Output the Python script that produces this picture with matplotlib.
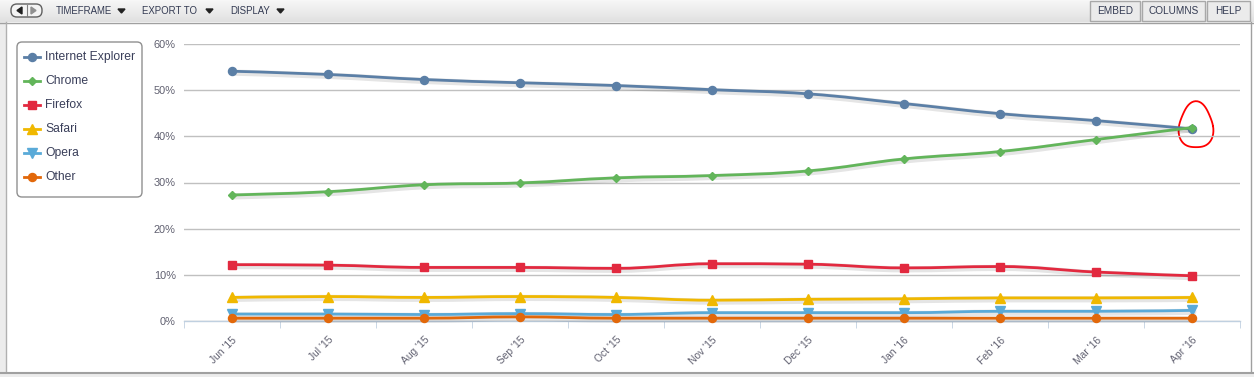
import matplotlib
matplotlib.use("Agg")
import matplotlib.pyplot as plt
from matplotlib.patches import FancyBboxPatch, Rectangle, Polygon, PathPatch
from matplotlib.path import Path
import matplotlib.patheffects as pe
import numpy as np

months = ["Jun '15", "Jul '15", "Aug '15", "Sep '15", "Oct '15", "Nov '15",
          "Dec '15", "Jan '16", "Feb '16", "Mar '16", "Apr '16"]
ie = [54.1, 53.4, 52.3, 51.6, 51.0, 50.1, 49.2, 47.1, 44.9, 43.4, 41.6]
chrome = [27.3, 28.0, 29.5, 29.9, 31.0, 31.5, 32.5, 35.1, 36.7, 39.3, 41.9]
firefox = [12.2, 12.1, 11.6, 11.6, 11.4, 12.4, 12.3, 11.5, 11.8, 10.6, 9.8]
safari = [5.1, 5.3, 5.1, 5.3, 5.1, 4.5, 4.7, 4.8, 5.0, 5.0, 5.1]
opera = [1.5, 1.5, 1.4, 1.6, 1.4, 1.8, 1.8, 1.8, 2.1, 2.1, 2.3]
other = [0.6, 0.6, 0.6, 0.9, 0.6, 0.6, 0.6, 0.6, 0.6, 0.6, 0.6]
yticks = [0, 10, 20, 30, 40, 50, 60]

series = [
    ("Internet Explorer", ie, "#5b7fa6", "o", 5.8),
    ("Chrome", chrome, "#62b55a", "D", 4.2),
    ("Firefox", firefox, "#e2293f", "s", 5.8),
    ("Safari", safari, "#f0b800", "^", 6.5),
    ("Opera", opera, "#5aaad8", "v", 6.5),
    ("Other", other, "#e2680a", "o", 5.8),
]


def spline_path(xs, ys, smoothing=1.5):
    xs = list(map(float, xs))
    ys = list(map(float, ys))
    n = len(xs)
    d = smoothing + 1
    verts = [(xs[0], ys[0])]
    codes = [Path.MOVETO]
    right = [None] * n
    left = [None] * n
    for i in range(1, n - 1):
        lx = (smoothing * xs[i] + xs[i - 1]) / d
        ly = (smoothing * ys[i] + ys[i - 1]) / d
        rx = (smoothing * xs[i] + xs[i + 1]) / d
        ry = (smoothing * ys[i] + ys[i + 1]) / d
        corr = ((ry - ly) * (rx - xs[i])) / (rx - lx) + ys[i] - ry
        ly += corr
        ry += corr
        if ly > max(ys[i - 1], ys[i]) or ly < min(ys[i - 1], ys[i]):
            ly = max(min(ly, max(ys[i - 1], ys[i])), min(ys[i - 1], ys[i]))
            ry = 2 * ys[i] - ly
        if ry > max(ys[i + 1], ys[i]) or ry < min(ys[i + 1], ys[i]):
            ry = max(min(ry, max(ys[i + 1], ys[i])), min(ys[i + 1], ys[i]))
            ly = 2 * ys[i] - ry
        left[i] = (lx, ly)
        right[i] = (rx, ry)
    for i in range(1, n):
        c1 = right[i - 1] if right[i - 1] else (xs[i - 1], ys[i - 1])
        c2 = left[i] if left[i] else (xs[i], ys[i])
        verts += [c1, c2, (xs[i], ys[i])]
        codes += [Path.CURVE4] * 3
    return Path(verts, codes)


W, H = 1254, 377
fig = plt.figure(figsize=(W / 100, H / 100), dpi=100)
fig.patch.set_facecolor("white")

bg = fig.add_axes([0, 0, 1, 1])
bg.set_xlim(0, W)
bg.set_ylim(H, 0)
bg.axis("off")
grad = np.linspace(0.97, 0.88, 50).reshape(-1, 1)
bg.imshow(np.dstack([grad, grad, grad]), extent=[0, W, 22, 0], aspect="auto", zorder=0)
bg.plot([0, W], [22.5, 22.5], color="#a0a0a0", lw=1)
bg.add_patch(Rectangle((0, 22), 5, H - 22, color="#ececec", zorder=1))
bg.plot([5.5, 5.5], [22, 372], color="#b0b0b0", lw=1)
bg.plot([1250.5, 1250.5], [22, 372], color="#a0a0a0", lw=1)
bg.plot([0, W], [372.5, 372.5], color="#a0a0a0", lw=1.5)
bg.add_patch(Rectangle((0, 373), W, 4, color="#ececec", zorder=1))
bg.add_patch(FancyBboxPatch((11, 4), 31, 13, boxstyle="round,pad=0,rounding_size=6",
                            fc="#f4f4f4", ec="#606060", lw=1))
bg.plot([26.5, 26.5], [5, 16], color="#808080", lw=0.8)
bg.add_patch(Polygon([[17, 10.5], [22, 7], [22, 14]], color="#202020"))
bg.add_patch(Polygon([[36, 10.5], [31, 7], [31, 14]], color="#909090"))
for label, x, arr in [("TIMEFRAME", 56, 118), ("EXPORT TO", 142, 206), ("DISPLAY", 230, 277)]:
    bg.text(x, 11, label, fontsize=6.9, color="#333a52", va="center", ha="left",
            family="Liberation Sans")
    bg.add_patch(Polygon([[arr, 9], [arr + 7, 9], [arr + 3.5, 13]], color="#222222"))
for label, x0, x1 in [("EMBED", 1090, 1140), ("COLUMNS", 1142, 1205), ("HELP", 1207, 1250)]:
    bg.add_patch(Rectangle((x0, 1), x1 - x0, 20, fc="#ebebeb", ec="#a8a8a8", lw=1))
    bg.text((x0 + x1) / 2, 11, label, fontsize=7.2, color="#333a52", va="center",
            ha="center", family="Liberation Sans")

bg.add_patch(FancyBboxPatch((17, 42), 125, 155, boxstyle="round,pad=0,rounding_size=5",
                            fc="white", ec="#909090", lw=1, zorder=2))
for i, (name, vals, col, mk, ms) in enumerate(series):
    y = 57 + i * 24
    bg.plot([24, 40], [y, y], color=col, lw=2, zorder=3)
    bg.plot([32], [y], marker=mk, color=col, ms=ms, zorder=3)
    bg.text(45, y, name, fontsize=8.7, color="#3a3f5a", va="center", ha="left",
            family="Liberation Sans", zorder=3)

ax = fig.add_axes([184 / W, 1 - 321 / H, (1240 - 184) / W, (321 - 44) / H])
ax.set_facecolor("none")
x = np.arange(len(months))
ax.set_xlim(-0.5, len(months) - 0.5)
ax.set_ylim(0, 60)
ax.set_yticks(yticks)
ax.set_yticklabels([f"{v}%" for v in yticks], fontsize=7.9, color="#606070",
                   family="Liberation Sans")
ax.grid(axis="y", color="#c0c0c0", lw=1)
ax.set_axisbelow(True)
for s in ["top", "right", "left"]:
    ax.spines[s].set_visible(False)
ax.spines["bottom"].set_color("#c0d0e0")
ax.spines["bottom"].set_linewidth(1)
ax.tick_params(axis="y", length=0, pad=6)
ax.set_xticks(np.arange(len(months) + 1) - 0.5, minor=True)
ax.set_xticks(x)
ax.set_xticklabels(months, rotation=45, ha="right", rotation_mode="anchor",
                   fontsize=7.4, color="#606070", family="Liberation Sans")
ax.tick_params(axis="x", which="major", length=0, pad=10)
ax.tick_params(axis="x", which="minor", length=5, color="#c0d0e0", direction="out")

shadow = [pe.SimpleLineShadow(offset=(1, -1), shadow_color="#000000", alpha=0.10, linewidth=4.5),
          pe.Normal()]
for k, (name, vals, col, mk, ms) in enumerate(series):
    p = spline_path(x, vals)
    ax.add_patch(PathPatch(p, fill=False, ec=col, lw=2, clip_on=False,
                           path_effects=shadow, zorder=3 + k * 0.1,
                           capstyle="round", joinstyle="round"))
    ax.plot(x, vals, ls="none", color=col, marker=mk, ms=ms, clip_on=False,
            zorder=3.05 + k * 0.1)

th = np.linspace(0, 2 * np.pi, 60)
r = 1 + 0.08 * np.sin(3 * th)
bg.plot(1196 + 17 * r * np.cos(th), 126 + 23 * r * np.sin(th), color="#ff0000", lw=1.3)

fig.savefig("out.png", dpi=100)
